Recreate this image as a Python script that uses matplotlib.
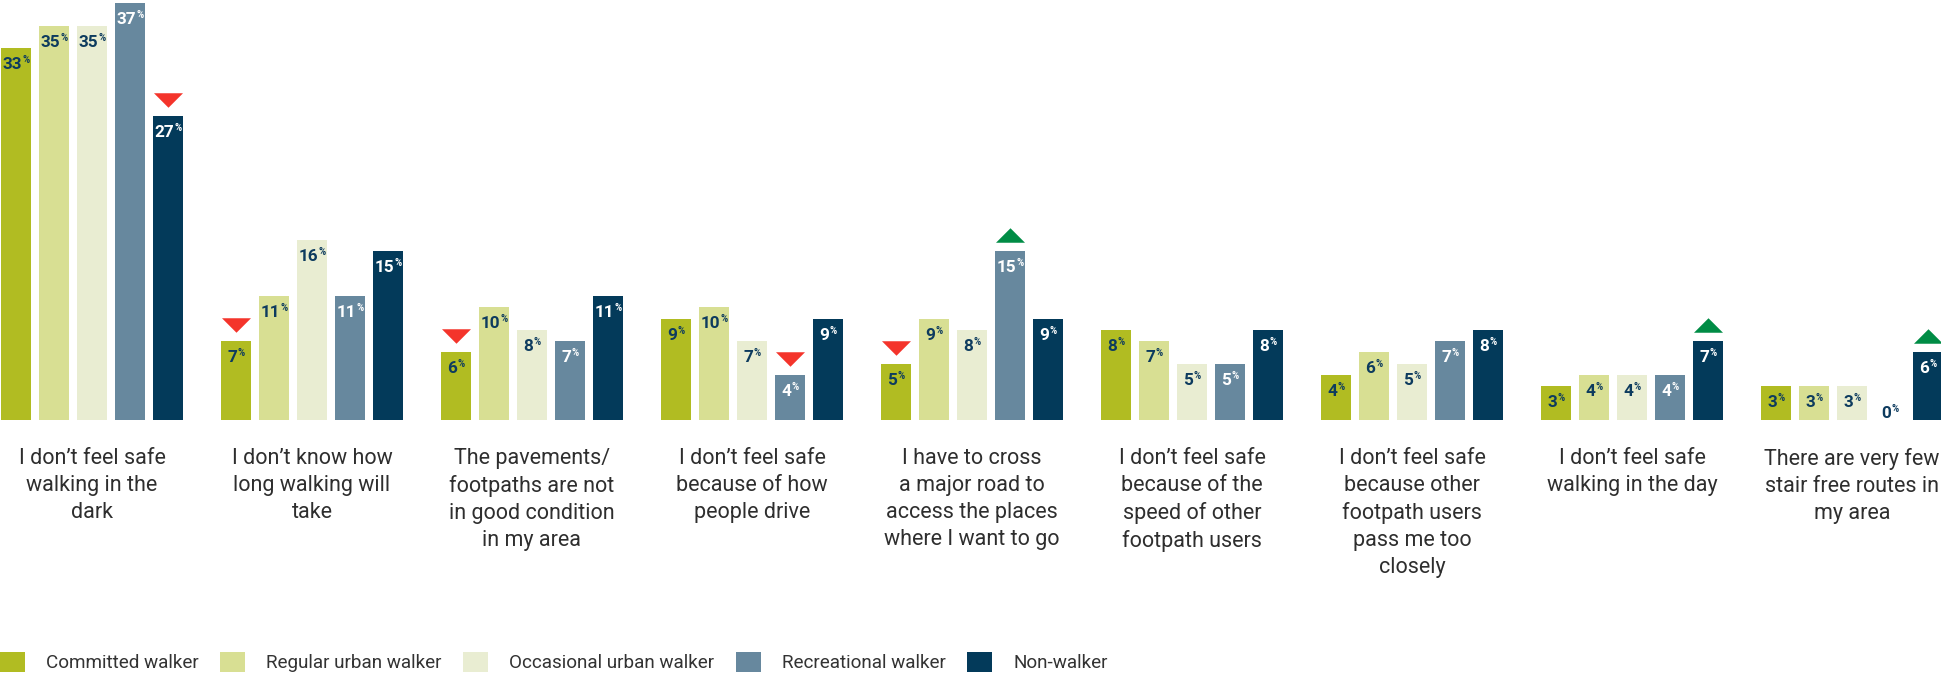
import matplotlib
matplotlib.use("Agg")
import matplotlib.pyplot as plt
import numpy as np
from matplotlib.path import Path
from matplotlib.font_manager import FontProperties
from matplotlib import transforms

plt.rcParams["font.family"] = ["Roboto", "DejaVu Sans"]

categories = [
    "I don\u2019t feel safe\nwalking in the\ndark",
    "I don\u2019t know how\nlong walking will\ntake",
    "The pavements/\nfootpaths are not\nin good condition\nin my area",
    "I don\u2019t feel safe\nbecause of how\npeople drive",
    "I have to cross\na major road to\naccess the places\nwhere I want to go",
    "I don\u2019t feel safe\nbecause of the\nspeed of other\nfootpath users",
    "I don\u2019t feel safe\nbecause other\nfootpath users\npass me too\nclosely",
    "I don\u2019t feel safe\nwalking in the day",
    "There are very few\nstair free routes in\nmy area",
]
series = ["Committed walker", "Regular urban walker", "Occasional urban walker",
          "Recreational walker", "Non-walker"]

committed = [33, 7, 6, 9, 5, 8, 4, 3, 3]
regular_urban = [35, 11, 10, 10, 9, 7, 6, 4, 3]
occasional_urban = [35, 16, 8, 7, 8, 5, 5, 4, 3]
recreational = [37, 11, 7, 4, 15, 5, 7, 4, 0]
non_walker = [27, 15, 11, 9, 9, 8, 8, 7, 6]

# significantly lower / higher than average: (category index, series index)
sig_lower = [(0, 4), (1, 0), (2, 0), (3, 3), (4, 0)]
sig_higher = [(4, 3), (7, 4), (8, 4)]

colors = ["#b1bc22", "#d8df93", "#e9edd2", "#67889e", "#033a5a"]
text_colors = ["#0d3b5e", "#0d3b5e", "#0d3b5e", "#ffffff", "#ffffff"]
navy = "#0d3b5e"
red = "#f4342b"
green = "#008c45"

values = np.array([committed, regular_urban, occasional_urban, recreational, non_walker])

W, H, DPI = 1941, 673, 100
fig = plt.figure(figsize=(W / DPI, H / DPI), dpi=DPI)
base_px = 420
px_per_unit = 11.27
ax = fig.add_axes([0, 1 - base_px / H, 1, base_px / H])
group_px = 220.0
ax.set_xlim(-92 / group_px, (W - 92) / group_px)
ax.set_ylim(0, base_px / px_per_unit)
ax.axis("off")

x = np.arange(len(categories))
step = 38 / group_px
width = 30 / group_px
offsets = (np.arange(len(series)) - 2) * step

for i, name in enumerate(series):
    ax.bar(x + offsets[i], values[i], width=width, color=colors[i], label=name,
           linewidth=0)

renderer = fig.canvas.get_renderer()
num_prop = FontProperties(family=["Roboto", "DejaVu Sans"], weight="bold", size=12.3)
pct_prop = FontProperties(family=["Roboto", "DejaVu Sans"], weight="bold", size=7)


def text_width(s, prop):
    w, h, d = renderer.get_text_width_height_descent(s, prop, ismath=False)
    return w


for i in range(len(series)):
    for g in range(len(categories)):
        v = values[i, g]
        xc = x[g] + offsets[i]
        s = f"{v}"
        w1 = text_width(s, num_prop)
        w2 = text_width("%", pct_prop)
        total = w1 + 1 + w2
        if v == 0:
            dy = 2
            col = navy
        else:
            dy = -21
            col = text_colors[i]
        ax.annotate(s, xy=(xc, v), xycoords="data", xytext=(-total / 2, dy),
                    textcoords="offset pixels", ha="left", va="baseline",
                    fontproperties=num_prop, color=col, annotation_clip=False)
        ax.annotate("%", xy=(xc, v), xycoords="data", xytext=(-total / 2 + w1 + 1, dy + 6),
                    textcoords="offset pixels", ha="left", va="baseline",
                    fontproperties=pct_prop, color=col, annotation_clip=False)

# significance triangles above bars
down_tri = Path([(-1, 0.5), (1, 0.5), (0, -0.5), (-1, 0.5)],
                [Path.MOVETO, Path.LINETO, Path.LINETO, Path.CLOSEPOLY])
up_tri = Path([(-1, -0.5), (1, -0.5), (0, 0.5), (-1, -0.5)],
              [Path.MOVETO, Path.LINETO, Path.LINETO, Path.CLOSEPOLY])
lift = transforms.offset_copy(ax.transData, fig=fig, x=0, y=16, units="dots")
msize = 29 * 72 / DPI
for g, i in sig_lower:
    ax.plot([x[g] + offsets[i]], [values[i, g]], marker=down_tri, markersize=msize,
            color=red, markeredgewidth=0, linestyle="none", transform=lift, clip_on=False)
for g, i in sig_higher:
    ax.plot([x[g] + offsets[i]], [values[i, g]], marker=up_tri, markersize=msize,
            color=green, markeredgewidth=0, linestyle="none", transform=lift, clip_on=False)

# category labels under each group
for g, cat in enumerate(categories):
    ax.annotate(cat, xy=(x[g], 0), xycoords="data", xytext=(0, -28),
                textcoords="offset pixels", ha="center", va="top", fontsize=15.5,
                linespacing=1.37, color="#2e2e2e", annotation_clip=False)

fs = 13.6
fig.legend(loc="lower left", bbox_to_anchor=(0, 1 / H), ncol=5, frameon=False,
           fontsize=fs, handlelength=25 / (fs * DPI / 72), handleheight=24 / (fs * DPI / 72),
           handletextpad=1.1, columnspacing=1.15, borderpad=0, borderaxespad=0,
           labelcolor="#333333")

fig.savefig("out.png", dpi=DPI)
